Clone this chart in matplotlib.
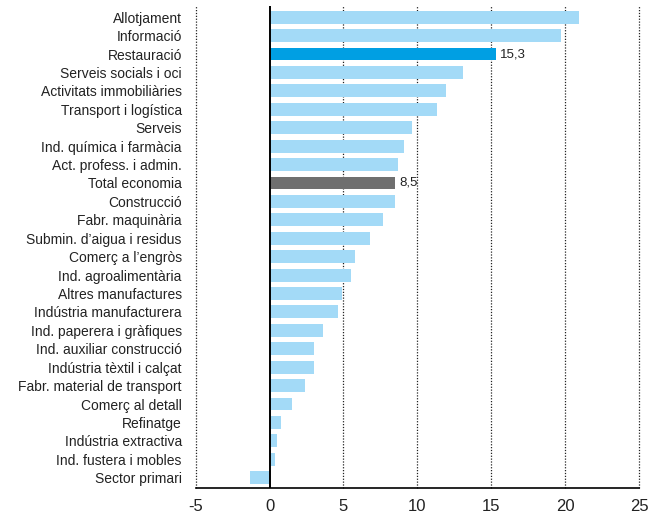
import numpy as np
import matplotlib.pyplot as plt

plt.rcParams['font.family'] = ['Liberation Sans', 'DejaVu Sans']

sectors = [
    "Allotjament", "Informació", "Restauració", "Serveis socials i oci",
    "Activitats immobiliàries", "Transport i logística", "Serveis",
    "Ind. química i farmàcia", "Act. profess. i admin.", "Total economia",
    "Construcció", "Fabr. maquinària", "Submin. d’aigua i residus",
    "Comerç a l’engròs", "Ind. agroalimentària", "Altres manufactures",
    "Indústria manufacturera", "Ind. paperera i gràfiques",
    "Ind. auxiliar construcció", "Indústria tèxtil i calçat",
    "Fabr. material de transport", "Comerç al detall", "Refinatge",
    "Indústria extractiva", "Ind. fustera i mobles", "Sector primari",
]
values = [20.9, 19.7, 15.3, 13.1, 11.9, 11.3, 9.6, 9.1, 8.7, 8.5,
          8.5, 7.7, 6.8, 5.8, 5.5, 4.9, 4.6, 3.6, 3.0, 3.0,
          2.4, 1.5, 0.8, 0.5, 0.4, -1.3]
highlight = {"Restauració": "#009fe3", "Total economia": "#6f6f6f"}
labelled = ["Restauració", "Total economia"]

fig = plt.figure(figsize=(6.61, 5.13), dpi=100)
ax = fig.add_axes([0.296, 0.049, 0.671, 0.939])

y = np.arange(len(sectors))
colors = [highlight.get(s, "#a3daf7") for s in sectors]
ax.barh(y, values, height=0.7, color=colors, zorder=2)

for i, (s, v) in enumerate(zip(sectors, values)):
    if s in labelled:
        ax.text(v + 0.25, i, f"{v:.1f}".replace(".", ","), va="center",
                ha="left", fontsize=9.5, color="#222222", zorder=3)

ax.set_xlim(-5, 25)
ax.set_ylim(len(sectors) - 0.45, -0.6)
ax.set_xticks([-5, 0, 5, 10, 15, 20, 25])
ax.set_xticklabels(["-5", "0", "5", "10", "15", "20", "25"], fontsize=12)
ax.set_yticks(y)
ax.set_yticklabels(sectors, fontsize=10)

for x in [-5, 5, 10, 15, 20, 25]:
    ax.axvline(x, color="#222222", lw=0.9, ls=(0, (1, 1.3)), zorder=1,
               clip_on=False)
ax.axvline(0, color="black", lw=1.4, zorder=3)

for side in ["left", "right", "top"]:
    ax.spines[side].set_visible(False)
ax.spines["bottom"].set_linewidth(1.2)
ax.tick_params(axis="y", length=0, pad=10, colors="#222222")
ax.tick_params(axis="x", length=0, pad=8, colors="#222222")

fig.savefig("out.png", dpi=100)
